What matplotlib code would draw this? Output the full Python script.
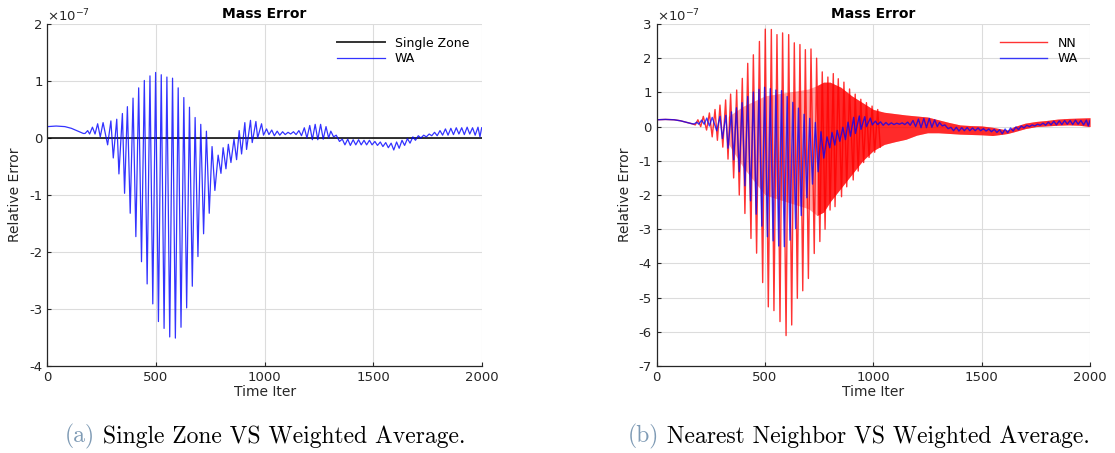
import numpy as np
import matplotlib
matplotlib.use("Agg")
import matplotlib.pyplot as plt

plt.rcParams['axes.unicode_minus'] = False
plt.rcParams['font.family'] = ['DejaVu Sans']

# ---- data (values x 1e-7) ----
# single zone: flat at zero
sz_iter = [0, 2000]
sz_val = [0.0, 0.0]

# weighted average: successive turning points of the oscillation
wa_iter = [0, 40, 80, 110, 140, 165, 173, 185, 194, 207, 219, 231, 243, 256,
           277, 292, 303, 319, 329, 345, 355, 368, 381, 394, 407, 420, 433,
           446, 459, 472, 485, 498, 511, 524, 537, 550, 563, 576, 589, 602,
           615, 628, 641, 654, 667, 680, 693, 706, 719, 732, 745, 758, 771,
           786, 799, 809, 822, 833, 845, 859, 871, 883, 894, 909, 917, 935,
           943, 960, 968, 986, 995, 1009, 1020, 1033, 1045, 1058, 1070, 1083,
           1095, 1108, 1120, 1133, 1145, 1158, 1170, 1183, 1195, 1208, 1220,
           1233, 1245, 1258, 1270, 1283, 1295, 1305, 1318, 1330, 1345, 1358,
           1370, 1383, 1395, 1408, 1420, 1433, 1445, 1458, 1470, 1483, 1495,
           1508, 1520, 1533, 1545, 1558, 1570, 1583, 1595, 1608, 1620, 1633,
           1645, 1658, 1670, 1683, 1695, 1708, 1720, 1733, 1745, 1758, 1770,
           1783, 1795, 1808, 1820, 1833, 1845, 1858, 1870, 1883, 1895, 1908,
           1920, 1933, 1945, 1958, 1970, 1983, 1992, 2000]
wa_val = [0.20, 0.21, 0.20, 0.17, 0.12, 0.08, 0.08, 0.13, 0.07, 0.19, 0.07,
          0.25, 0.02, 0.27, -0.12, 0.30, -0.35, 0.33, -0.63, 0.43, -0.97,
          0.55, -1.32, 0.70, -1.73, 0.88, -2.17, 1.01, -2.56, 1.09, -2.91,
          1.15, -3.22, 1.11, -3.34, 1.07, -3.49, 1.05, -3.51, 0.88, -3.32,
          0.71, -2.98, 0.54, -2.60, 0.36, -2.08, 0.24, -1.68, 0.12, -1.32,
          -0.15, -0.92, -0.30, -0.62, -0.17, -0.54, -0.11, -0.43, -0.02,
          -0.38, 0.13, -0.28, 0.27, -0.20, 0.31, -0.08, 0.29, 0.00, 0.25,
          0.05, 0.16, 0.06, 0.14, 0.04, 0.12, 0.05, 0.11, 0.06, 0.10, 0.07,
          0.11, 0.06, 0.13, 0.04, 0.18, 0.00, 0.22, -0.03, 0.24, -0.03, 0.24,
          -0.02, 0.20, 0.00, 0.12, 0.02, 0.05, -0.06, -0.02, -0.12, -0.02,
          -0.13, -0.03, -0.12, -0.03, -0.12, -0.04, -0.12, -0.04, -0.12,
          -0.06, -0.13, -0.07, -0.15, -0.08, -0.17, -0.09, -0.21, -0.07,
          -0.18, -0.04, -0.13, -0.01, -0.09, 0.02, -0.04, 0.04, 0.00, 0.05,
          0.02, 0.07, 0.04, 0.10, 0.04, 0.13, 0.05, 0.16, 0.05, 0.17, 0.06,
          0.18, 0.07, 0.18, 0.06, 0.19, 0.07, 0.18, 0.05, 0.19, 0.02, 0.18]

# nearest neighbour: turning points of the large spikes
nn_iter = [0, 40, 80, 110, 140, 165, 178, 190, 203, 215, 230, 243, 256, 269,
           280, 292, 305, 318, 329, 341, 355, 369, 381, 395, 407, 420, 435,
           446, 461, 474, 489, 501, 515, 529, 541, 555, 569, 581, 597, 609,
           623, 635, 649, 661, 674, 686, 700, 712, 727, 738, 753, 764, 777,
           790, 800, 815, 823, 838, 853, 864, 877, 890, 907, 916, 930, 942,
           955, 968, 980, 994, 1006, 1020, 1032]
nn_val = [0.20, 0.21, 0.20, 0.17, 0.12, 0.08, 0.05, 0.20, 0.00, 0.30, -0.10,
          0.40, -0.30, 0.50, -0.40, 0.63, -0.60, 0.78, -0.95, 0.95, -1.50,
          1.07, -2.00, 1.41, -2.54, 1.85, -3.27, 2.10, -3.70, 2.49, -4.56,
          2.85, -5.27, 2.84, -5.38, 2.69, -5.70, 2.74, -6.11, 2.69, -5.80,
          2.45, -5.02, 2.40, -4.80, 2.25, -4.44, 2.27, -3.71, 2.00, -3.36,
          1.60, -3.00, 1.45, -2.44, 1.55, -2.34, 1.40, -2.05, 1.30, -1.76,
          1.10, -1.56, 0.95, -1.30, 0.80, -1.05, 0.70, -0.90, 0.60, -0.75,
          0.50, -0.60]
# nearest neighbour: dense high-frequency band around the spikes (envelope)
nn_band_iter = [330, 400, 500, 600, 700, 740, 770, 800, 850, 900, 950, 1000,
                1050, 1100, 1150, 1200, 1250, 1300, 1350, 1400, 1450, 1500,
                1550, 1600, 1620, 1650, 1700, 1750, 1800, 1850, 1900, 1950,
                2000]
nn_band_hi = [0.30, 0.60, 0.90, 1.00, 1.10, 1.20, 1.30, 1.30, 1.15, 0.90,
              0.70, 0.50, 0.42, 0.38, 0.34, 0.31, 0.28, 0.20, 0.12, 0.05,
              0.03, 0.02, -0.02, -0.08, -0.10, 0.00, 0.10, 0.15, 0.18, 0.22,
              0.24, 0.25, 0.26]
nn_band_lo = [-0.50, -1.20, -2.00, -2.20, -2.40, -2.60, -2.50, -2.20, -1.80,
              -1.40, -1.00, -0.70, -0.52, -0.44, -0.37, -0.25, -0.18, -0.18,
              -0.20, -0.22, -0.23, -0.24, -0.26, -0.22, -0.20, -0.15, -0.06,
              0.00, 0.02, 0.04, 0.05, 0.04, 0.00]

SCALE = 1e-7
TXT = '#262626'


def style_axes(ax, ylim, yticks, ylabel_x):
    ax.set_xlim(0, 2000)
    ax.set_ylim(ylim[0] * SCALE, ylim[1] * SCALE)
    ax.set_xticks([0, 500, 1000, 1500, 2000])
    ax.set_yticks([t * SCALE for t in yticks])
    ax.set_yticklabels([str(t) for t in yticks])
    ax.grid(True, color='#dcdcdc', linewidth=0.8)
    ax.set_axisbelow(True)
    for s in ['top', 'right']:
        ax.spines[s].set_visible(False)
    for s in ['left', 'bottom']:
        ax.spines[s].set_color(TXT)
        ax.spines[s].set_linewidth(0.9)
    ax.tick_params(direction='in', length=3, colors=TXT, labelsize=9.5,
                   width=0.8)
    ax.set_title('Mass Error', fontsize=10, fontweight='bold', color='black',
                 pad=4)
    ax.set_xlabel('Time Iter', fontsize=10, color=TXT, labelpad=1)
    ax.set_ylabel('Relative Error', fontsize=10, color=TXT)
    ax.yaxis.set_label_coords(ylabel_x, 0.5)
    ax.text(0.0, 1.0, r'$\times10^{-7}$', transform=ax.transAxes,
            fontsize=9.5, color=TXT, ha='left', va='bottom')


fig = plt.figure(figsize=(11.15, 4.53), dpi=100)

# (a) single zone vs weighted average
ax1 = fig.add_axes([0.0426, 0.192, 0.3894, 0.755])
ax1.plot(sz_iter, np.array(sz_val) * SCALE, color='black', lw=1.4,
         alpha=0.8, label='Single Zone')
ax1.plot(wa_iter, np.array(wa_val) * SCALE, color='blue', lw=0.9,
         alpha=0.8, label='WA')
style_axes(ax1, (-4, 2), [-4, -3, -2, -1, 0, 1, 2], -0.058)
ax1.legend(loc='upper right', frameon=False, fontsize=9, handlelength=3.8,
           borderaxespad=0.6, labelspacing=0.2)

# (b) nearest neighbour vs weighted average
ax2 = fig.add_axes([0.589, 0.192, 0.3886, 0.755])
bx = np.array(nn_band_iter)
bhi = np.array(nn_band_hi) * SCALE
blo = np.array(nn_band_lo) * SCALE
ax2.fill_between(bx, blo, bhi, color='red', alpha=0.35, lw=0)
dense = bx >= 740
ax2.fill_between(bx[dense], blo[dense], bhi[dense], color='red', alpha=0.75,
                 lw=0)
ax2.plot(nn_iter, np.array(nn_val) * SCALE, color='red', lw=1.0,
         alpha=0.8, label='NN')
ax2.plot(wa_iter, np.array(wa_val) * SCALE, color='blue', lw=1.0,
         alpha=0.75, label='WA')
style_axes(ax2, (-7, 3), [-7, -6, -5, -4, -3, -2, -1, 0, 1, 2, 3], -0.058)
ax2.legend(loc='upper right', frameon=False, fontsize=9, handlelength=3.8,
           borderaxespad=0.6, labelspacing=0.2)

# sub-figure captions
cap = dict(fontsize=17, family='cmr10', va='center')
ta = fig.text(0.058, 0.036, '(a)', color='#7f9bb5', ha='left', **cap)
ax1.annotate(' Single Zone VS Weighted Average.', xy=(1, 0.5), xycoords=ta,
             color='black', ha='left', annotation_clip=False, **cap)
tb = fig.text(0.563, 0.036, '(b)', color='#7f9bb5', ha='left', **cap)
ax2.annotate(' Nearest Neighbor VS Weighted Average.', xy=(1, 0.5),
             xycoords=tb, color='black', ha='left', annotation_clip=False,
             **cap)

fig.savefig('out.png', dpi=100)
